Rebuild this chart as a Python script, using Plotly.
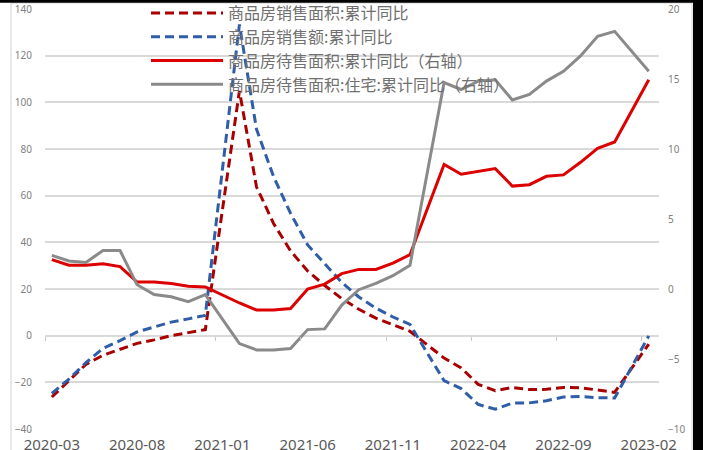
import plotly.graph_objects as go

# Monthly periods (cumulative year-to-date figures; January is reported jointly with February)
months = [
    "2020-03", "2020-04", "2020-05", "2020-06", "2020-07", "2020-08", "2020-09", "2020-10",
    "2020-11", "2020-12", "2021-01", "2021-02", "2021-03", "2021-04", "2021-05", "2021-06",
    "2021-07", "2021-08", "2021-09", "2021-10", "2021-11", "2021-12", "2022-01", "2022-02",
    "2022-03", "2022-04", "2022-05", "2022-06", "2022-07", "2022-08", "2022-09", "2022-10",
    "2022-11", "2022-12", "2023-01", "2023-02",
]

# 商品房销售面积:累计同比 (%)
sales_area_yoy = [
    -26.3, -19.3, -12.3, -8.4, -5.8, -3.3, -1.8, 0.0, 1.3, 2.6,
    None, 104.9, 63.8, 48.1, 36.3, 27.7, 21.5, 15.9, 11.3, 7.5, 4.8, 1.9,
    None, -9.6, -13.8, -20.9, -23.6, -22.2, -23.1, -23.0, -22.2, -22.3, -23.3, -24.3,
    None, -3.6,
]

# 商品房销售额:累计同比 (%)
sales_amount_yoy = [
    -24.7, -18.6, -11.6, -5.4, -2.1, 1.6, 3.7, 5.8, 7.2, 8.7,
    None, 133.4, 88.5, 68.2, 52.4, 38.9, 30.7, 22.8, 16.6, 11.8, 8.0, 4.8,
    None, -19.3, -22.7, -29.5, -31.5, -28.9, -28.8, -27.9, -26.3, -26.1, -26.6, -26.7,
    None, -0.1,
]

# 商品房待售面积:累计同比 (%, right axis)
unsold_area_yoy = [
    2.1, 1.7, 1.7, 1.8, 1.6, 0.5, 0.5, 0.4, 0.2, 0.15,
    None, -1.0, -1.5, -1.5, -1.4, 0.0, 0.35, 1.1, 1.4, 1.4, 1.85, 2.45,
    None, 8.9, 8.2, 8.4, 8.6, 7.35, 7.45, 8.05, 8.15, 9.05, 10.05, 10.5,
    None, 14.95,
]

# 商品房待售面积:住宅:累计同比 (%, right axis)
unsold_residential_yoy = [
    2.4, 2.0, 1.9, 2.75, 2.75, 0.3, -0.4, -0.55, -0.9, -0.4,
    None, -3.9, -4.35, -4.35, -4.25, -2.9, -2.85, -1.15, -0.05, 0.4, 0.95, 1.7,
    None, 14.75, 14.25, 14.85, 14.95, 13.5, 13.9, 14.85, 15.55, 16.65, 18.05, 18.4,
    None, 15.55,
]

series_names = [
    "商品房销售面积:累计同比",
    "商品房销售额:累计同比",
    "商品房待售面积:累计同比（右轴）",
    "商品房待售面积:住宅:累计同比（右轴）",
]

x_idx = list(range(len(months)))
label_pos = x_idx[::5]
label_text = [months[i] for i in label_pos]
# small tick marks on the zero line sit just before each labelled month
mark_pos = [p - 0.4 for p in label_pos]

DARK_RED = "#A80000"
BLUE = "#2F5DA8"
RED = "#DD0000"
GREY = "#8A8A8A"
GRID = "#D9D9D9"
TEXT = "#7F7F7F"

fig = go.Figure()
fig.add_trace(go.Scatter(
    x=x_idx, y=sales_area_yoy, name=series_names[0], mode="lines", connectgaps=True,
    line=dict(color=DARK_RED, width=3, dash="9px,5px"), yaxis="y", xaxis="x",
))
fig.add_trace(go.Scatter(
    x=x_idx, y=sales_amount_yoy, name=series_names[1], mode="lines", connectgaps=True,
    line=dict(color=BLUE, width=3, dash="9px,5px"), yaxis="y", xaxis="x",
))
fig.add_trace(go.Scatter(
    x=x_idx, y=unsold_area_yoy, name=series_names[2], mode="lines", connectgaps=True,
    line=dict(color=RED, width=3), yaxis="y2", xaxis="x",
))
fig.add_trace(go.Scatter(
    x=x_idx, y=unsold_residential_yoy, name=series_names[3], mode="lines", connectgaps=True,
    line=dict(color=GREY, width=3), yaxis="y2", xaxis="x",
))
# carrier for the tick-mark axis that sits on the zero line
fig.add_trace(go.Scatter(x=[x_idx[0]], y=[0], mode="none", showlegend=False,
                         hoverinfo="skip", xaxis="x2", yaxis="y"))

W, H = 703, 450
ML, MR, MT, MB = 45, 44, 9, 21
pw, ph = W - ML - MR, H - MT - MB
ymin, ymax = -40, 140

def px_to_paper_x(px):
    return (px - ML) / pw

def px_to_paper_y(py):
    return (H - MB - py) / ph

xrange_ = [-0.4, 35.6]

fig.update_layout(
    width=W, height=H,
    margin=dict(l=ML, r=MR, t=MT, b=MB, pad=0, autoexpand=False),
    paper_bgcolor="white", plot_bgcolor="white",
    font=dict(family="Noto Sans CJK SC, Noto Sans, sans-serif", color=TEXT),
    xaxis=dict(
        range=xrange_, tickmode="array", tickvals=label_pos, ticktext=label_text,
        ticks="", showgrid=False, zeroline=False, showline=False,
        ticklabelstandoff=5, automargin=False,
        tickfont=dict(size=15, color="#595959", family="Noto Sans, sans-serif"),
    ),
    xaxis2=dict(
        range=xrange_, overlaying="x", anchor="free",
        position=(0 - ymin) / (ymax - ymin), side="bottom",
        tickmode="array", tickvals=mark_pos, showticklabels=False,
        ticks="outside", ticklen=4, tickwidth=1, tickcolor="#C8C8C8",
        showgrid=False, zeroline=False, showline=False,
    ),
    yaxis=dict(
        range=[ymin, ymax], tick0=0, dtick=20, showgrid=True, gridcolor=GRID, gridwidth=2,
        zeroline=True, zerolinecolor=GRID, zerolinewidth=2, showline=False, ticks="",
        ticklabelstandoff=12, automargin=False,
        tickfont=dict(size=10, color=TEXT, family="Noto Sans, sans-serif"),
    ),
    yaxis2=dict(
        range=[-10, 20], tick0=0, dtick=5, overlaying="y", side="right",
        showgrid=False, zeroline=False, showline=False, ticks="",
        ticklabelstandoff=8, automargin=False,
        tickfont=dict(size=10, color=TEXT, family="Noto Sans, sans-serif"),
    ),
    legend=dict(
        x=px_to_paper_x(146), y=px_to_paper_y(-4), xanchor="left", yanchor="top",
        bgcolor="rgba(0,0,0,0)", borderwidth=0,
        font=dict(size=16, color="#707070", family="Noto Sans CJK SC"),
        itemwidth=72, tracegroupgap=0,
    ),
    showlegend=True,
    shapes=[
        # outer frame of the chart area
        dict(type="rect", xref="paper", yref="paper",
             x0=px_to_paper_x(11), x1=px_to_paper_x(692),
             y0=px_to_paper_y(460), y1=px_to_paper_y(3),
             line=dict(color="#D0D0D0", width=1), fillcolor="rgba(0,0,0,0)", layer="below"),
        # dark page edges
        dict(type="rect", xref="paper", yref="paper",
             x0=px_to_paper_x(-5), x1=px_to_paper_x(710),
             y0=px_to_paper_y(2.7), y1=px_to_paper_y(-5),
             line=dict(width=0), fillcolor="black", layer="above"),
        dict(type="rect", xref="paper", yref="paper",
             x0=px_to_paper_x(693), x1=px_to_paper_x(710),
             y0=px_to_paper_y(460), y1=px_to_paper_y(-5),
             line=dict(width=0), fillcolor="black", layer="above"),
    ],
)

fig.write_html("out.html")
